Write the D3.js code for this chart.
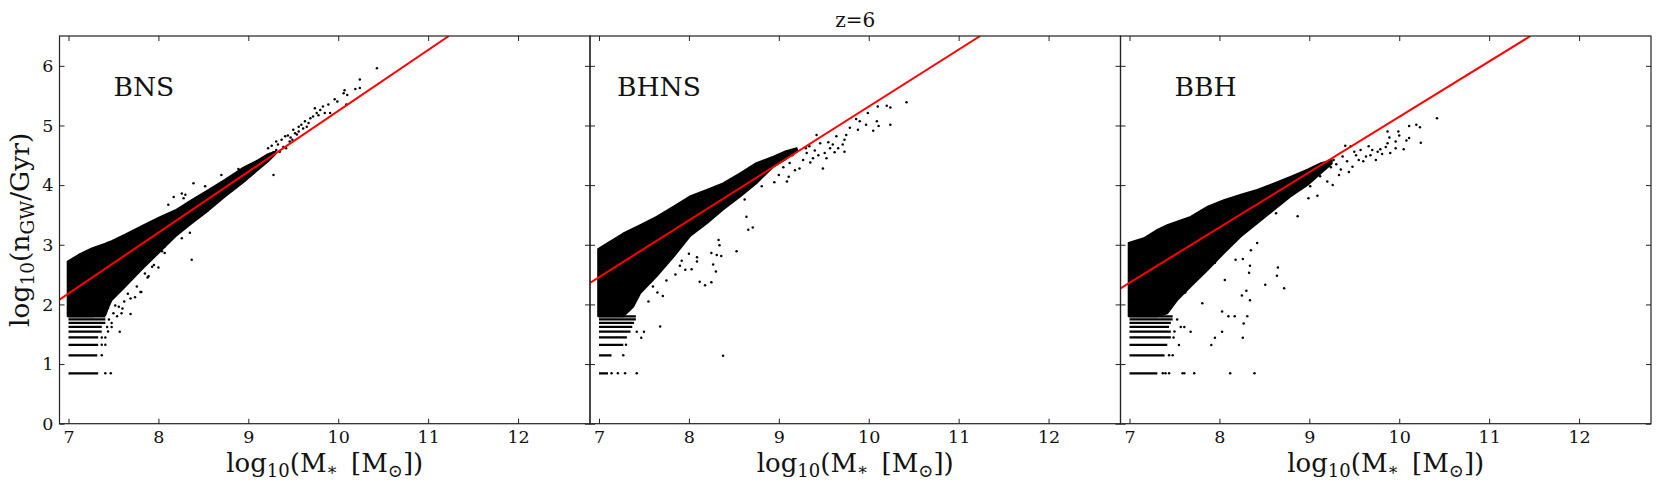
<!DOCTYPE html>
<html><head><meta charset="utf-8">
<script src="https://cdn.jsdelivr.net/npm/d3@7"></script>
<style>
html,body{margin:0;padding:0;background:#fff;}
svg{display:block;}
svg text{font-family:"DejaVu Serif",serif;}
</style></head>
<body>
<div id="chart"></div>
<script>
// ---------------- data ----------------
const title = "z=6";
const panelNames = ["BNS", "BHNS", "BBH"];
const xTicks = [7, 8, 9, 10, 11, 12];
const yTicks = [0, 1, 2, 3, 4, 5, 6];
const xDomain = [6.9, 12.8];
const yDomain = [0, 6.5];
// panel label anchor (data coords)
const labelX = [7.5, 7.2, 7.5];
const labelY = [5.5, 5.5, 5.5];

// red fit lines: two end points each
const bnsFit  = [[6.9, 2.08], [11.23, 6.5]];
const bhnsFit = [[6.9, 2.36], [11.24, 6.5]];
const bbhFit  = [[6.9, 2.27], [11.46, 6.5]];

// dense part of each scatter cloud: x, upper edge, lower edge
const bnsCloudX     = [6.99, 7.11, 7.26, 7.41, 7.44, 7.48, 7.63, 7.81, 8.00, 8.19, 8.37, 8.56, 8.74, 8.93, 9.11, 9.22, 9.30];
const bnsCloudUpper = [2.72, 2.83, 2.94, 3.02, 3.04, 3.06, 3.17, 3.31, 3.45, 3.58, 3.75, 3.92, 4.09, 4.28, 4.42, 4.52, 4.56];
const bnsCloudLower = [1.80, 1.80, 1.80, 1.82, 1.94, 2.07, 2.30, 2.58, 2.86, 3.14, 3.36, 3.58, 3.81, 4.03, 4.26, 4.40, 4.52];

const bhnsCloudX     = [6.99, 7.12, 7.27, 7.38, 7.46, 7.64, 7.83, 8.01, 8.20, 8.38, 8.57, 8.75, 8.94, 9.08, 9.20];
const bhnsCloudUpper = [2.93, 3.05, 3.19, 3.27, 3.33, 3.47, 3.64, 3.81, 3.92, 4.03, 4.20, 4.37, 4.48, 4.57, 4.62];
const bhnsCloudLower = [1.80, 1.80, 1.80, 1.96, 2.19, 2.47, 2.80, 3.14, 3.36, 3.59, 3.81, 4.03, 4.31, 4.44, 4.56];

const bbhCloudX     = [6.99, 7.16, 7.31, 7.42, 7.53, 7.68, 7.87, 8.05, 8.24, 8.42, 8.61, 8.79, 8.98, 9.13, 9.25];
const bbhCloudUpper = [3.03, 3.11, 3.25, 3.33, 3.39, 3.47, 3.64, 3.75, 3.84, 3.92, 4.03, 4.14, 4.26, 4.37, 4.42];
const bbhCloudLower = [1.80, 1.80, 1.80, 1.85, 2.07, 2.30, 2.58, 2.86, 3.14, 3.36, 3.59, 3.81, 4.00, 4.20, 4.36];

// discrete low-rate levels (horizontal streaks) and where each streak ends
const streakLevels = [0.845, 1.146, 1.322, 1.447, 1.544, 1.623, 1.690, 1.748, 1.799];
const bnsStreakEnd  = [7.33, 7.32, 7.33, 7.33, 7.37, 7.37, 7.41, 7.41, 7.41];
const bhnsStreakEnd = [7.10, 7.14, 7.27, 7.31, 7.35, 7.37, 7.39, 7.41, 7.41];
const bbhStreakEnd  = [7.31, 7.39, 7.42, 7.46, 7.46, 7.44, 7.46, 7.48, 7.48];

// individual points outside the dense cloud
const bnsPoints = [
 [10.43,5.96],[10.24,5.77],[10.24,5.63],[10.19,5.61],[10.07,5.59],[10.06,5.54],[10.10,5.51],[9.96,5.44],[9.99,5.40],
 [10.09,5.35],[9.89,5.35],[9.83,5.32],[9.80,5.26],[9.85,5.21],[9.91,5.21],[9.74,5.29],[9.76,5.21],[9.72,5.15],[9.69,5.12],
 [9.63,5.07],[9.65,4.98],[9.59,5.01],[9.56,4.98],[9.56,4.90],[9.52,4.87],[9.50,4.93],[9.49,4.76],[9.46,4.73],[9.44,4.83],
 [9.41,4.82],[9.42,4.62],[9.37,4.76],[9.35,4.56],[9.33,4.68],[9.31,4.73],[9.31,4.59],[9.26,4.66],[9.22,4.62],[9.19,4.48],
 [9.24,4.52],[9.28,4.55],[9.39,4.64],[9.47,4.80],[9.54,4.85],[9.61,4.95],[9.67,5.04],[9.78,5.17],
 [9.28,4.17],[8.37,2.75],[8.39,4.03],[8.52,3.98],[8.70,4.17],[8.89,4.27],[8.17,3.80],[8.26,3.86],[8.30,3.84],[8.28,3.78],
 [8.11,3.67],[7.81,2.21],[7.69,1.84],[7.57,1.54],[7.74,2.12],[7.66,2.18],[7.56,1.96],[7.60,1.93],[8.07,2.86],[8.26,3.11],
 [8.35,3.20],[7.52,1.98],[7.62,2.05],[7.41,0.845],[7.47,0.845],[7.37,1.146],[7.37,1.322],[7.41,1.322],[7.37,1.447],
 [7.41,1.447],[7.44,1.544],[7.43,1.623],[7.48,1.623],[7.48,1.690],[7.45,1.748],[7.88,2.45],[7.95,2.66],[8.00,2.62],
 [7.44,1.94],[7.50,1.85],[7.54,1.80],[7.59,1.85],[7.69,2.10],[7.76,2.30],[7.80,2.21],[7.85,2.52],[7.89,2.47],[7.93,2.63],
 [8.04,2.89],[8.07,2.97]
];
const bhnsPoints = [
 [10.42,5.39],[10.20,5.33],[10.10,5.32],[10.24,5.30],[9.99,5.21],[10.09,5.07],[10.11,4.99],[10.24,5.01],[10.05,4.91],
 [9.97,5.01],[9.88,4.93],[9.90,5.07],[9.86,5.11],[9.79,4.96],[9.75,4.84],[9.73,4.76],[9.71,4.68],[9.73,4.56],[9.64,4.82],
 [9.60,4.68],[9.57,4.62],[9.51,4.54],[9.49,4.28],[9.46,4.70],[9.42,4.84],[9.38,4.45],[9.34,4.65],[9.31,4.54],[9.27,4.42],
 [9.23,4.28],[9.20,4.59],[9.12,4.37],[9.09,4.06],[9.11,4.14],[9.00,4.17],[8.81,3.98],[8.62,3.76],[8.64,3.47],[8.66,3.25],
 [8.71,3.29],[8.53,2.89],[8.33,3.08],[8.34,2.99],[8.25,2.86],[8.31,2.83],[8.27,2.67],[8.30,2.55],[8.36,2.81],[8.12,2.38],
 [8.18,2.32],[8.25,2.37],[8.09,2.79],[8.09,2.72],[8.03,2.59],[7.96,2.58],[7.92,2.73],[7.71,2.14],[7.68,1.63],[7.50,1.54],
 [7.47,1.44],[7.42,1.54],[8.38,1.14],[7.42,0.845],[7.14,0.845],[7.21,0.845],[7.29,0.845],[7.27,1.146],[7.30,1.322],
 [9.15,4.50],[9.30,4.62],[9.40,4.58],[9.55,4.72],[9.66,4.62],[9.62,4.55],[9.53,4.45],[9.44,4.50],[9.35,4.38],[9.18,4.25],
 [9.05,4.30],[8.95,4.05],[7.60,2.30],[7.75,2.40],[7.85,2.50],[7.55,2.05],[7.65,2.20],[8.00,2.85],[7.90,2.65]
];
const bbhPoints = [
 [10.42,5.12],[10.19,5.01],[10.23,4.97],[10.24,4.71],[10.11,4.99],[10.11,4.79],[10.08,4.75],[10.05,4.60],[9.99,4.90],
 [10.00,4.83],[9.96,4.73],[9.96,4.62],[9.87,4.90],[9.89,4.80],[9.87,4.70],[9.85,4.64],[9.90,4.54],[9.76,4.56],[9.74,4.42],
 [9.70,4.59],[9.66,4.65],[9.63,4.48],[9.57,4.59],[9.55,4.42],[9.50,4.56],[9.48,4.31],[9.46,4.65],[9.40,4.66],[9.37,4.48],
 [9.35,4.26],[9.33,4.17],[9.27,4.42],[9.26,4.00],[9.20,4.06],[9.16,4.31],[9.09,3.82],[9.01,3.98],[8.99,3.78],[8.87,3.48],
 [8.63,3.53],[8.42,3.03],[8.35,2.91],[8.26,2.76],[8.18,2.75],[8.34,2.65],[8.33,2.53],[8.65,2.62],[8.64,2.48],[8.72,2.27],
 [8.51,2.33],[8.30,2.23],[8.25,2.15],[8.34,2.07],[8.06,2.41],[7.81,2.02],[8.03,1.88],[8.10,1.80],[8.17,1.80],[8.31,1.80],
 [8.27,1.68],[7.68,1.54],[8.03,1.54],[7.95,1.44],[8.26,1.44],[7.91,1.32],[7.55,1.32],[8.12,0.845],[8.39,0.845],
 [7.37,0.845],[7.40,0.845],[7.44,0.845],[7.59,0.845],[7.61,0.845],[7.72,0.845],[7.44,1.146],[7.48,1.146],[7.49,1.447],
 [7.50,1.544],[7.57,1.623],[7.61,1.623],[7.53,1.748],[9.21,4.40],[9.30,4.35],[9.42,4.40],[9.52,4.50],[9.60,4.40],[9.68,4.50],
 [9.79,4.60],[9.81,4.52],[9.44,4.22],[9.12,4.15],[9.24,4.30],[7.70,2.42],[7.95,2.70],[8.10,2.95],[7.62,2.20]
];

const clouds = [
  {x: bnsCloudX,  up: bnsCloudUpper,  lo: bnsCloudLower,  streakEnd: bnsStreakEnd,  pts: bnsPoints,  fit: bnsFit},
  {x: bhnsCloudX, up: bhnsCloudUpper, lo: bhnsCloudLower, streakEnd: bhnsStreakEnd, pts: bhnsPoints, fit: bhnsFit},
  {x: bbhCloudX,  up: bbhCloudUpper,  lo: bbhCloudLower,  streakEnd: bbhStreakEnd,  pts: bbhPoints,  fit: bbhFit}
];

// ---------------- layout ----------------
const W = 1660, H = 489;
const plotTop = 36, plotBottom = 423.7;
const panelW = 530.5;
const panelLeft = [59.5, 590, 1120.5];
const axisColor = "#222";
const FONT = '"DejaVu Serif", serif';

const svg = d3.select("#chart").append("svg").attr("width", W).attr("height", H);

const y = d3.scaleLinear().domain(yDomain).range([plotBottom, plotTop]);

function mathLabel(sel, parts) {
  parts.forEach(p => {
    const t = sel.append("tspan").text(p.t);
    if (p.s) t.style("font-size", p.s + "px");
    if (p.dy) t.attr("dy", p.dy);
  });
}

panelNames.forEach((name, i) => {
  const L = panelLeft[i];
  const x = d3.scaleLinear().domain(xDomain).range([L, L + panelW]);
  const c = clouds[i];
  const clipId = "clip" + i;
  svg.append("clipPath").attr("id", clipId)
    .append("rect").attr("x", L).attr("y", plotTop).attr("width", panelW).attr("height", plotBottom - plotTop);
  const g = svg.append("g").attr("clip-path", `url(#${clipId})`);

  // dense cloud
  const area = d3.area()
    .x(d => x(d[0])).y0(d => y(d[2])).y1(d => y(d[1]))
    .curve(d3.curveLinear);
  const cloudData = c.x.map((v, k) => [v, c.up[k], c.lo[k]]);
  g.append("path").datum(cloudData).attr("d", area)
    .attr("fill", "#000").attr("stroke", "#000").attr("stroke-width", 1.8).attr("stroke-linejoin", "round");

  // horizontal streaks
  const line = d3.line().x(d => x(d[0])).y(d => y(d[1]));
  streakLevels.forEach((lv, k) => {
    g.append("path").datum([[7.0, lv], [c.streakEnd[k], lv]]).attr("d", line)
      .attr("stroke", "#000").attr("stroke-width", 2.2).attr("fill", "none");
  });

  // individual points
  g.selectAll("circle.p").data(c.pts).enter().append("circle")
    .attr("cx", d => x(d[0])).attr("cy", d => y(d[1])).attr("r", 1.25).attr("fill", "#000");

  // fit line
  g.append("path").datum(c.fit).attr("d", line)
    .attr("stroke", "#ff0000").attr("stroke-width", 2).attr("fill", "none");

  // axes (inward ticks on all four sides)
  const ax = svg.append("g");
  const bAxis = d3.axisBottom(x).tickValues(xTicks).tickSizeInner(-5).tickSizeOuter(0).tickPadding(7).tickFormat(d3.format("d"));
  const tAxis = d3.axisTop(x).tickValues(xTicks).tickSizeInner(-5).tickSizeOuter(0).tickFormat("");
  const lAxis = d3.axisLeft(y).tickValues(yTicks).tickSizeInner(-5).tickSizeOuter(0).tickPadding(6)
    .tickFormat(i === 0 ? d3.format("d") : () => "");
  const rAxis = d3.axisRight(y).tickValues(yTicks).tickSizeInner(-5).tickSizeOuter(0).tickFormat("");
  [[bAxis, `translate(0,${plotBottom})`], [tAxis, `translate(0,${plotTop})`],
   [lAxis, `translate(${L},0)`], [rAxis, `translate(${L + panelW},0)`]].forEach(([a, t]) => {
    const gg = ax.append("g").attr("transform", t).call(a)
      .attr("font-family", null).attr("font-size", null);
    gg.select(".domain").remove();
    gg.selectAll("line").attr("stroke", axisColor).attr("stroke-width", 1);
    gg.selectAll("text").style("font-family", FONT).style("font-size", "17.5px").attr("fill", "#111");
  });
  ax.append("rect").attr("x", L).attr("y", plotTop).attr("width", panelW).attr("height", plotBottom - plotTop)
    .attr("fill", "none").attr("stroke", axisColor).attr("stroke-width", 1.2);

  // panel label
  svg.append("text").attr("x", x(labelX[i])).attr("y", y(labelY[i]))
    .style("font-size", "26.5px").attr("fill", "#111").text(name);

  // x axis label: log10(M* [M⊙])
  const xl = svg.append("text").attr("x", L + panelW / 2).attr("y", 471.5)
    .attr("text-anchor", "middle").style("font-size", "26px").attr("fill", "#111");
  mathLabel(xl, [
    {t: "log"}, {t: "10", s: 18, dy: 5}, {t: "(M", dy: -5}, {t: "\u2217", s: 17, dy: 3},
    {t: "\u2002[M", dy: -3}, {t: "\u2299", s: 18, dy: 5}, {t: "])", dy: -5}
  ]);
});

// y axis label: log10(nGW/Gyr)
const ylab = svg.append("text").attr("transform", `translate(29,${(plotTop + plotBottom) / 2}) rotate(-90)`)
  .attr("text-anchor", "middle").style("font-size", "26.5px").attr("fill", "#111");
mathLabel(ylab, [
  {t: "log"}, {t: "10", s: 18.5, dy: 5}, {t: "(n", dy: -5}, {t: "GW", s: 18.5, dy: 5}, {t: "/Gyr)", dy: -5}
]);

// title
svg.append("text").attr("x", panelLeft[1] + panelW / 2).attr("y", 27)
  .attr("text-anchor", "middle").style("font-size", "20px").attr("fill", "#111").text(title);
</script>
</body></html>
